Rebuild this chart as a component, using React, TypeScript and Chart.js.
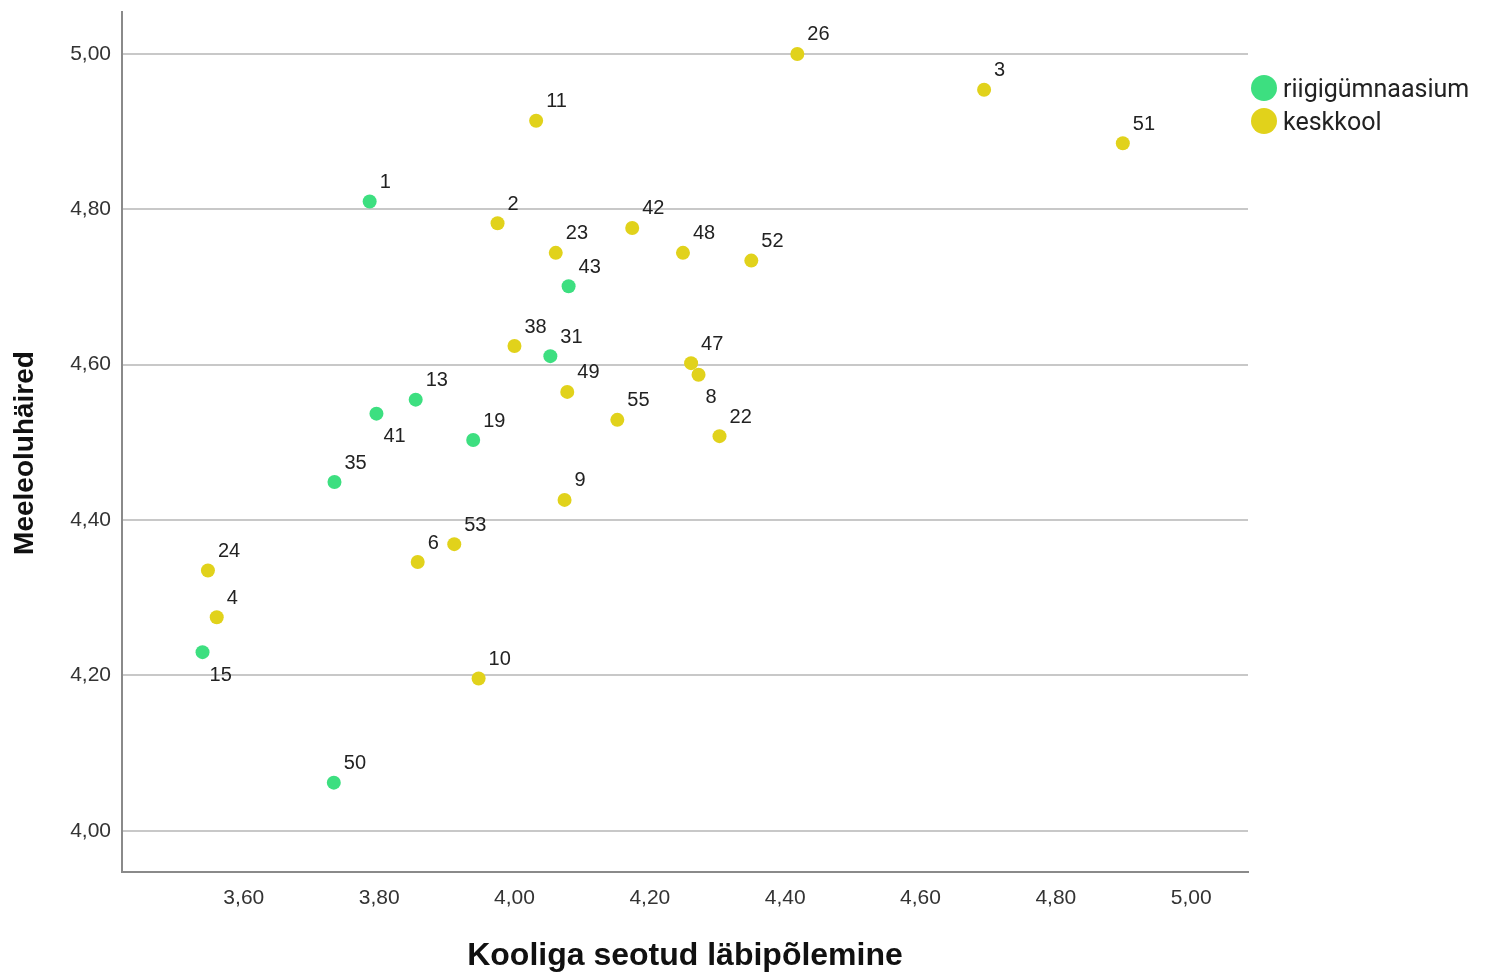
import React, { useEffect, useRef } from "react";
import { Chart, registerables } from "chart.js";

Chart.register(...registerables);

// ---- data ----
const seriesNames = ["riigigümnaasium", "keskkool"];
const seriesColors = ["#3ddf80", "#e1d21b"];

// riigigümnaasium
const greenIds = ["1", "43", "31", "13", "41", "19", "35", "15", "50"];
const greenX = [3.786, 4.08, 4.053, 3.854, 3.796, 3.939, 3.734, 3.539, 3.733];
const greenY = [4.81, 4.701, 4.611, 4.555, 4.537, 4.503, 4.449, 4.23, 4.062];
const greenBelow = [false, false, false, false, true, false, false, true, false];

// keskkool
const yellowIds = ["26", "3", "51", "11", "2", "42", "23", "48", "52", "38", "47", "8", "49", "55", "22", "9", "53", "6", "24", "4", "10"];
const yellowX = [4.418, 4.694, 4.899, 4.032, 3.975, 4.174, 4.061, 4.249, 4.35, 4.0, 4.261, 4.272, 4.078, 4.152, 4.303, 4.074, 3.911, 3.857, 3.547, 3.56, 3.947];
const yellowY = [5.0, 4.954, 4.885, 4.914, 4.782, 4.776, 4.744, 4.744, 4.734, 4.624, 4.602, 4.587, 4.565, 4.529, 4.508, 4.426, 4.369, 4.346, 4.335, 4.275, 4.196];
const yellowBelow = [false, false, false, false, false, false, false, false, false, false, false, true, false, false, false, false, false, false, false, false, false];

const xTicks = [3.6, 3.8, 4.0, 4.2, 4.4, 4.6, 4.8, 5.0];
const yTicks = [4.0, 4.2, 4.4, 4.6, 4.8, 5.0];
const xRange = [3.42, 5.084];
const yRange = [3.947, 5.054];

const xTitle = "Kooliga seotud läbipõlemine";
const yTitle = "Meeleoluhäired";

const fmt = (v: number) => v.toFixed(2).replace(".", ",");

const labelsPlugin = {
  id: "pointLabels",
  afterDatasetsDraw(chart: any) {
    const ctx = chart.ctx;
    ctx.save();
    ctx.font = "20px 'Liberation Sans', Arial, sans-serif";
    ctx.fillStyle = "#222";
    ctx.textAlign = "left";
    ctx.textBaseline = "middle";
    const sets = [
      { ids: greenIds, below: greenBelow },
      { ids: yellowIds, below: yellowBelow },
    ];
    sets.forEach((s, di) => {
      const meta = chart.getDatasetMeta(di);
      meta.data.forEach((el: any, i: number) => {
        const below = s.below[i];
        const dx = below ? 7 : 10;
        const dy = below ? 23 : -19;
        ctx.fillText(s.ids[i], el.x + dx, el.y + dy);
      });
    });
    ctx.restore();
  },
};

const decorPlugin = {
  id: "decor",
  afterDraw(chart: any) {
    const ctx = chart.ctx;
    const ca = chart.chartArea;
    ctx.save();
    // axis titles
    ctx.fillStyle = "#111";
    ctx.textAlign = "center";
    ctx.textBaseline = "middle";
    ctx.font = "bold 32px 'Liberation Sans', Arial, sans-serif";
    ctx.fillText(xTitle, (ca.left + ca.right) / 2, 956);
    ctx.save();
    ctx.font = "bold 28px 'Liberation Sans', Arial, sans-serif";
    ctx.translate(25, 453);
    ctx.rotate(-Math.PI / 2);
    ctx.fillText(yTitle, 0, 0);
    ctx.restore();
    // legend
    ctx.font = "25px Roboto, 'Noto Sans', sans-serif";
    ctx.textAlign = "left";
    seriesNames.forEach((name, i) => {
      const cy = 88 + i * 33;
      ctx.beginPath();
      ctx.fillStyle = seriesColors[i];
      ctx.arc(ca.right + 16, cy, 13, 0, Math.PI * 2);
      ctx.fill();
      ctx.fillStyle = "#222";
      ctx.fillText(name, ca.right + 35, cy + 3);
    });
    ctx.restore();
  },
};

export default function App() {
  const ref = useRef<HTMLCanvasElement>(null);
  useEffect(() => {
    if (!ref.current) return;
    const mk = (xs: number[], ys: number[]) => xs.map((x, i) => ({ x, y: ys[i] }));
    const chart = new Chart(ref.current, {
      type: "scatter",
      data: {
        datasets: [
          {
            label: seriesNames[0],
            data: mk(greenX, greenY),
            backgroundColor: seriesColors[0],
            borderWidth: 0,
            pointRadius: 7,
          },
          {
            label: seriesNames[1],
            data: mk(yellowX, yellowY),
            backgroundColor: seriesColors[1],
            borderWidth: 0,
            pointRadius: 7,
          },
        ],
      },
      options: {
        animation: false,
        responsive: false,
        layout: { padding: { left: 0, top: 12, right: 238, bottom: 0 } },
        plugins: { legend: { display: false }, tooltip: { enabled: false } },
        scales: {
          x: {
            type: "linear",
            min: xRange[0],
            max: xRange[1],
            afterBuildTicks: (s: any) => {
              s.ticks = xTicks.map((v) => ({ value: v }));
            },
            afterFit: (s: any) => {
              s.height = 100;
              s.paddingLeft = 0;
              s.paddingRight = 0;
            },
            grid: { display: false, drawTicks: false },
            border: { display: true, color: "#8a8a8a", width: 2 },
            ticks: {
              padding: 14,
              color: "#333",
              font: { family: "'Liberation Sans', Arial, sans-serif", size: 21 },
              callback: (v: any) => fmt(Number(v)),
              maxRotation: 0,
            },
          },
          y: {
            type: "linear",
            min: yRange[0],
            max: yRange[1],
            afterBuildTicks: (s: any) => {
              s.ticks = yTicks.map((v) => ({ value: v }));
            },
            afterFit: (s: any) => {
              s.width = 122;
              s.paddingTop = 0;
              s.paddingBottom = 0;
            },
            grid: { color: "#c8c8c8", lineWidth: 2, drawTicks: false },
            border: { display: true, color: "#8a8a8a", width: 2 },
            ticks: {
              padding: 11,
              color: "#333",
              font: { family: "'Liberation Sans', Arial, sans-serif", size: 21 },
              callback: (v: any) => fmt(Number(v)),
            },
          },
        },
      },
      plugins: [labelsPlugin, decorPlugin],
    } as any);
    return () => chart.destroy();
  }, []);
  return (
    <div style={{ position: "fixed", left: 0, top: 0, width: 1486, height: 972, background: "#fff" }}>
      <canvas ref={ref} width={1486} height={972} style={{ display: "block" }} />
    </div>
  );
}
